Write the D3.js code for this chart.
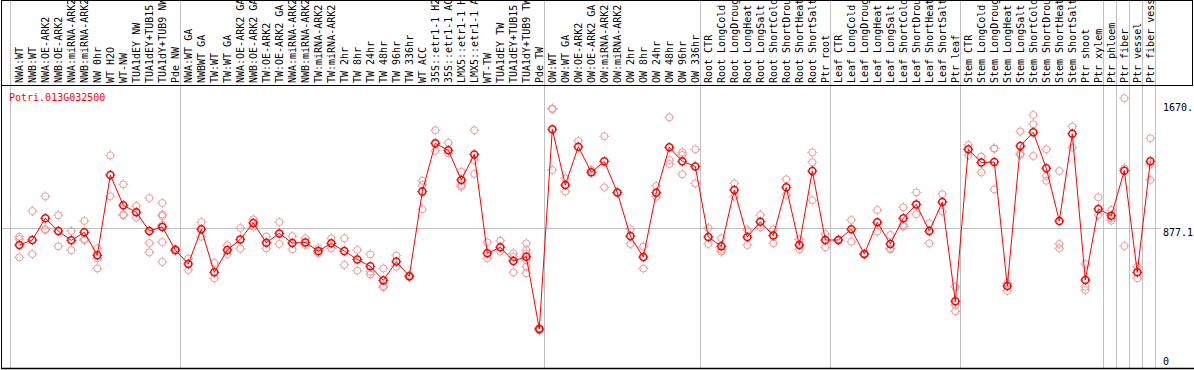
<!DOCTYPE html>
<html><head><meta charset="utf-8">
<script src="https://cdn.jsdelivr.net/npm/d3@7"></script>
<style>
html,body{margin:0;padding:0;background:#fff;}
svg{display:block;}
text{font-family:"DejaVu Sans Mono",monospace;font-size:10px;}
</style></head>
<body>
<svg id="c" width="1194" height="370"></svg>
<script>
const categories = ["NWA:WT","NWB:WT","NWA:OE-ARK2","NWB:OE-ARK2","NWA:miRNA-ARK2","NWB:miRNA-ARK2","NW 0hr","WT H2O","WT-NW","TUA1dEY NW","TUA1dEY+TUB15 NW","TUA1dY+TUB9 NW","Pde NW",
"NWA:WT GA","NWBWT GA","TW:WT","TW:WT GA","NWA:OE-ARK2 GA","NWB:OE-ARK2 GA","TW:OE-ARK2","TW:OE-ARK2 GA","NWA:miRNA-ARK2","NWB:miRNA-ARK2","TW:miRNA-ARK2","TW:miRNA-ARK2","TW 2hr","TW 8hr","TW 24hr","TW 48hr","TW 96hr","TW 336hr","WT ACC","35S::etr1-1 H2O","35S::etr1-1 ACC","LMX5::etr1-1 H2O","LMX5::etr1-1 ACC","WT-TW","TUA1dEY TW","TUA1dEY+TUB15 TW","TUA1dY+TUB9 TW","Pde TW",
"OW:WT","OW:WT GA","OW:OE-ARK2","OW:OE-ARK2 GA","OW:miRNA-ARK2","OW:miRNA-ARK2","OW 2hr","OW 8hr","OW 24hr","OW 48hr","OW 96hr","OW 336hr",
"Root CTR","Root LongCold","Root LongDrought","Root LongHeat","Root LongSalt","Root ShortCold","Root ShortDrought","Root ShortHeat","Root ShortSalt","Ptr root",
"Leaf CTR","Leaf LongCold","Leaf LongDrought","Leaf LongHeat","Leaf LongSalt","Leaf ShortCold","Leaf ShortDrought","Leaf ShortHeat","Leaf ShortSalt","Ptr leaf",
"Stem CTR","Stem LongCold","Stem LongDrought","Stem LongHeat","Stem LongSalt","Stem ShortCold","Stem ShortDrought","Stem ShortHeat","Stem ShortSalt","Ptr shoot","Ptr xylem",
"Ptr phloem","Ptr fiber","Ptr vessel","Ptr fiber vessel"];

const means = [769,801,939,858,799,850,704,1213,1021,977,858,884,738,
649,869,596,738,805,909,784,843,782,786,731,780,731,678,634,545,664,571,1108,1414,1370,1182,1344,717,755,668,695,237,
1503,1150,1393,1230,1300,1103,826,693,1101,1389,1300,1268,
820,761,1118,820,917,829,1135,769,1239,801,
801,869,712,913,776,939,1027,858,1042,412,
1376,1292,1296,509,1397,1484,1256,922,1475,547,998,
955,1241,596,1300];

const replicates = [[822,807,691],[985,712],[1078,869,865],[958,761],[858,736],[922,807,801],[748,685,621],[1338,1078],[1154,962,958],[1017,943],[1067,782,723],[1036,962,953,896,788,662],[745,732],
[683,611],[915,822],[655,558],[767,710],[877,746],[932,886],[822,748],[915,776],[826,742],[812,769],[748,717],[812,748],[812,643],[738,607],[710,600,583],[621,509,501],[702,632],[578,566],[1177,1150,996],[1497,1366],[1418,1351],[1234,1150,1139],[1497,1308,1220],[786,685],[797,727],[717,695,596],[780,738,717,674,632,590],[242,228],
[1636,1630,1245],[1192,1108],[1429],[1245],[1459,1135],[1103],[869,776],[759,621],[1144,1076],[1579,1308,1283],[1357,1340,1218],[1376,1160],
[877,776],[812,738,727],[1160,1076],[865,769],[960,881],[869,780],[1186,1087],[805,742],[1357,1294,1053],[839,755],
[801,803],[928,790],[716,708],[991,854],[833,748,742],[1008,896,886],[1103,964],[907,780],[1091,981],[505,389,349],
[1404,1340],[1330,1230],[1383,1380,1122],[526,478],[1490,1351,1340],[1594,1535,1334],[1376,1207,1177],[1239,776,748],[1520,1387],[649,505,484],[1072,960],
[991,939,924],[1700,1256,763],[632,558],[1446,1283,1182]];

const axisTicks = [0, 877.1, 1670];
const axisTickLabels = ["0", "877.1", "1670."];
const groupEnds = [12, 40, 52, 62, 72, 83, 84, 85, 86, 87];
const title = "Potri.013G032500";

const svg = d3.select("#c");
const x = d3.scaleLinear().domain([0, categories.length - 1]).range([19.3, 1150.3]);
const y = d3.scaleLinear().domain([0, 1670]).range([366.3, 103]);

const headerBottom = 85, plotBottom = 368.5;
const grid = "#c0c0c0";

// vertical group separators
const vlines = [x(0) - 9].concat(groupEnds.map(i => x(i) + 5));
svg.selectAll("line.v").data(vlines).enter().append("line")
  .attr("x1", d => Math.round(d) + 0.5).attr("x2", d => Math.round(d) + 0.5)
  .attr("y1", 0).attr("y2", plotBottom).attr("stroke", grid).attr("stroke-width", 1);

// horizontal gridline at 877.1
svg.append("line").attr("x1", 1).attr("x2", 1161)
  .attr("y1", Math.round(y(877.1)) + 0.5).attr("y2", Math.round(y(877.1)) + 0.5)
  .attr("stroke", grid);

// frame
svg.append("line").attr("x1", 1).attr("x2", 1193).attr("y1", 0.5).attr("y2", 0.5).attr("stroke", "#000");
svg.append("line").attr("x1", 1).attr("x2", 1193).attr("y1", headerBottom + 0.5).attr("y2", headerBottom + 0.5).attr("stroke", "#000");
svg.append("line").attr("x1", 1).attr("x2", 1194).attr("y1", plotBottom).attr("y2", plotBottom).attr("stroke", "#000").attr("stroke-width", 1.5);
svg.append("line").attr("x1", 1.5).attr("x2", 1.5).attr("y1", 0).attr("y2", plotBottom).attr("stroke", "#000");
svg.append("line").attr("x1", 1192.5).attr("x2", 1192.5).attr("y1", 0).attr("y2", headerBottom).attr("stroke", "#000");

// header labels
svg.selectAll("text.cat").data(categories).enter().append("text")
  .attr("class", "cat")
  .attr("transform", (d, i) => `translate(${x(i) + 3.8},83) rotate(-90)`)
  .attr("fill", "#000").text(d => d);

// title
svg.append("text").attr("x", 9).attr("y", 101).attr("fill", "#ff0000").text(title);

// right axis labels
svg.selectAll("text.tick").data(axisTicks).enter().append("text")
  .attr("x", 1163)
  .attr("y", d => d === 0 ? y(d) - 1 : y(d) + 7.5)
  .attr("fill", "#000")
  .text((d, i) => axisTickLabels[i]);

function marker(g, cx, cy, color, sw) {
  g.append("circle").attr("cx", cx).attr("cy", cy).attr("r", 3.5)
    .attr("fill", "none").attr("stroke", color).attr("stroke-width", sw);
  const t = [[0,-1],[0,1],[-1,0],[1,0]];
  t.forEach(([dx, dy]) => {
    g.append("line")
      .attr("x1", cx + dx * 3.5).attr("y1", cy + dy * 3.5)
      .attr("x2", cx + dx * 5).attr("y2", cy + dy * 5)
      .attr("stroke", color).attr("stroke-width", 1);
  });
}

// replicates
const gr = svg.append("g");
replicates.forEach((reps, i) => {
  reps.forEach(v => marker(gr, x(i), y(v), "#ee9a9a", 1));
});

// mean line
svg.append("path").datum(means)
  .attr("d", d3.line().x((d, i) => x(i)).y(d => y(d)))
  .attr("fill", "none").attr("stroke", "#ff0000").attr("stroke-width", 1);

// mean markers
const gm = svg.append("g");
means.forEach((v, i) => marker(gm, x(i), y(v), "#ff0000", 1.5));
</script>
</body></html>
